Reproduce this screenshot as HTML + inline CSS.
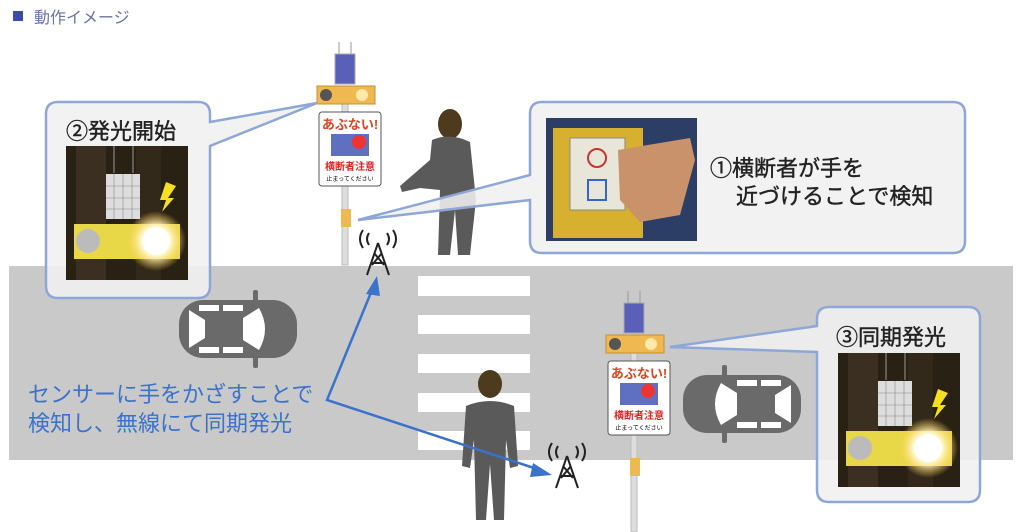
<!DOCTYPE html>
<html><head><meta charset="utf-8"><style>
html,body{margin:0;background:#fff;width:1024px;height:532px;overflow:hidden;font-family:"Liberation Sans","Noto Sans CJK JP",sans-serif}
svg{display:block}
</style></head><body>
<svg width="1024" height="532" xmlns="http://www.w3.org/2000/svg" style="font-family:'Liberation Sans','Noto Sans CJK JP',sans-serif">
<defs>
<radialGradient id="glow" cx="0.5" cy="0.5" r="0.5"><stop offset="0" stop-color="#fff"/><stop offset="0.5" stop-color="#fff6c8"/><stop offset="1" stop-color="#ffcc40" stop-opacity="0"/></radialGradient>
<g id="photo">
<rect width="122" height="134" fill="#2a2115"/>
<rect x="10" y="0" width="30" height="134" fill="#3a2f20"/>
<rect x="70" y="0" width="25" height="134" fill="#33291b"/>
<line x1="48" y1="0" x2="48" y2="27" stroke="#999"/><line x1="67" y1="0" x2="67" y2="27" stroke="#999"/>
<rect x="40" y="28" width="34" height="45" fill="#ddd"/>
<g stroke="#888" stroke-width="0.6"><line x1="48" y1="28" x2="48" y2="73"/><line x1="57" y1="28" x2="57" y2="73"/><line x1="66" y1="28" x2="66" y2="73"/><line x1="40" y1="40" x2="74" y2="40"/><line x1="40" y1="52" x2="74" y2="52"/><line x1="40" y1="63" x2="74" y2="63"/></g>
<polygon points="100,36 110,40 102,52 108,52 96,66 100,54 94,54" fill="#f5e020"/>
<rect x="8" y="78" width="106" height="35" fill="#e8d848"/>
<circle cx="22" cy="95" r="12" fill="#bbb"/>
<circle cx="90" cy="95" r="30" fill="url(#glow)"/>
<circle cx="90" cy="95" r="14" fill="#fff"/>
</g>
<g id="pole">
<line x1="-6" y1="0" x2="-6" y2="12" stroke="#999"/><line x1="6" y1="0" x2="6" y2="12" stroke="#999"/>
<rect x="-10" y="12" width="20" height="30" fill="#5a5fb8" stroke="#aaa"/>
<rect x="-28" y="44" width="58" height="18" fill="#f0b850" stroke="#c89030"/>
<circle cx="-19" cy="53" r="6" fill="#555"/><circle cx="17" cy="53" r="6" fill="#ffe9a8"/>
<rect x="-26" y="70" width="62" height="74" rx="3" fill="#fff" stroke="#555"/>
<text x="5" y="87" font-size="13" font-weight="bold" fill="#d42" text-anchor="middle">あぶない!</text>
<rect x="-14" y="92" width="38" height="22" fill="#6070c0"/><circle cx="14" cy="100" r="7" fill="#e33"/>
<text x="5" y="128" font-size="10" font-weight="bold" fill="#d22" text-anchor="middle">横断者注意</text>
<text x="5" y="139" font-size="6" fill="#000" text-anchor="middle">止まってください</text>
<rect x="-4" y="167" width="10" height="18" fill="#f0b850"/>
</g>
<g id="ant" fill="none" stroke="#222" stroke-width="2">
<path d="M0,0 L-11,32 M0,0 L11,32 M-7,20 L7,20 M-4,10 L6,22 M4,10 L-6,22"/>
<path d="M-9,-10 q-4,6 0,12 M-15,-13 q-6,9 0,18 M9,-10 q4,6 0,12 M15,-13 q6,9 0,18"/>
</g>
<g id="car" fill="#6a6a6a">
<rect x="0" y="0" width="118" height="58" rx="24"/>
<rect x="74" y="-10" width="5" height="78" rx="2"/>
<path d="M10,10 L26,20 L26,38 L10,48 Z" fill="#fff"/>
<path d="M64,18 L80,8 Q92,29 80,50 L64,40 Z" fill="#fff"/>
<rect x="20" y="5" width="20" height="6" fill="#fff"/><rect x="44" y="5" width="20" height="6" fill="#fff"/>
<rect x="20" y="47" width="20" height="6" fill="#fff"/><rect x="44" y="47" width="20" height="6" fill="#fff"/>
</g>
<g id="man" fill="#5a5a5a">
<ellipse cx="0" cy="0" rx="12" ry="14" fill="#4e3a1c"/>
<path d="M-24,22 Q0,12 24,22 L28,82 L20,84 L16,56 L14,136 L4,136 L0,80 L-4,136 L-14,136 L-16,56 L-20,84 L-28,82 Z"/>
</g>
</defs>
<rect x="13" y="11" width="10" height="10" fill="#3a4da8"/>
<text x="34" y="23" font-size="16" fill="#6b73a8">動作イメージ</text>
<rect x="9" y="266" width="1004" height="194" fill="#c9c9c9"/>
<g fill="#fff"><rect x="418" y="276" width="112" height="20"/><rect x="418" y="315" width="112" height="19"/><rect x="418" y="354" width="112" height="19"/><rect x="418" y="393" width="112" height="19"/><rect x="418" y="431" width="112" height="19"/></g>
<use href="#car" x="179" y="300"/>
<use href="#car" x="683" y="375" transform="translate(1484,0) scale(-1,1)"/>
<rect x="342" y="104" width="6" height="161" fill="#ddd" stroke="#bbb"/>
<use href="#pole" x="345" y="42"/>
<rect x="631" y="353" width="6" height="179" fill="#ddd" stroke="#bbb"/>
<use href="#pole" x="634" y="291"/>
<use href="#ant" x="378" y="243"/>
<use href="#ant" x="567" y="456"/>
<g fill="#5a5a5a"><ellipse cx="450" cy="124" rx="12" ry="15" fill="#4e3a1c"/><path d="M432,140 Q450,132 470,142 L476,200 L470,255 L458,255 L455,210 L450,255 L438,255 L440,190 L420,188 L402,192 L400,186 L430,160 Z"/></g>
<use href="#man" x="490" y="384"/>
<g fill="rgba(240,240,240,0.88)" stroke="#8fa6d8" stroke-width="2.5">
<path d="M58,102 H198 Q210,102 210,114 V122 L317,103 L210,146 V286 Q210,298 198,298 H58 Q46,298 46,286 V114 Q46,102 58,102 Z"/>
<path d="M542,102 H953 Q965,102 965,114 V241 Q965,253 953,253 H542 Q530,253 530,241 V200 L358,220 L530,175 V114 Q530,102 542,102 Z"/>
<path d="M829,307 H968 Q980,307 980,319 V490 Q980,502 968,502 H829 Q817,502 817,490 V352 L670,347 L817,326 V319 Q817,307 829,307 Z"/>
</g>
<text x="66" y="139" font-size="22" fill="#222" stroke="#222" stroke-width="0.4">②発光開始</text>
<use href="#photo" x="66" y="146"/>
<text x="836" y="345" font-size="22" fill="#222" stroke="#222" stroke-width="0.4">③同期発光</text>
<use href="#photo" x="838" y="353"/>
<rect x="546" y="118" width="151" height="123" fill="#2c3e66"/>
<rect x="553" y="128" width="90" height="110" fill="#d8b030"/>
<rect x="570" y="138" width="55" height="72" fill="#e8e6d8" stroke="#888"/>
<circle cx="597" cy="158" r="9" fill="none" stroke="#c33" stroke-width="2"/>
<path d="M588,180 h18 v20 h-18 z" fill="none" stroke="#36c" stroke-width="2"/>
<path d="M618,150 L690,138 L695,160 L680,215 L640,222 L620,200 Z" fill="#c9926a"/>
<text x="710" y="176" font-size="22" fill="#222" stroke="#222" stroke-width="0.4">①横断者が手を</text>
<text x="736" y="204" font-size="22" fill="#222" stroke="#222" stroke-width="0.4">近づけることで検知</text>
<text x="28" y="402" font-size="22" fill="#3a72cc">センサーに手をかざすことで</text>
<text x="28" y="431" font-size="22" fill="#3a72cc">検知し、無線にて同期発光</text>
<g stroke="#3a72cc" stroke-width="2.5" fill="none"><path d="M372,290 L327,400 L540,470"/></g>
<polygon points="377,276 366,294 380,296" fill="#3a72cc"/>
<polygon points="552,475 533,463 530,477" fill="#3a72cc"/>
</svg>
</body></html>
